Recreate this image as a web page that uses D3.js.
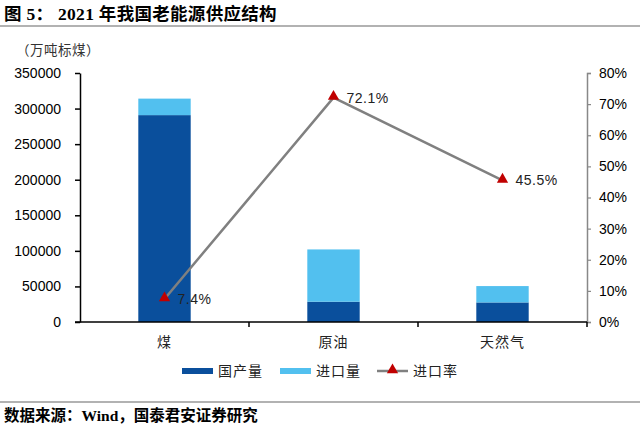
<!DOCTYPE html>
<html lang="zh">
<head>
<meta charset="utf-8">
<title>2021年我国老能源供应结构</title>
<script src="https://cdn.jsdelivr.net/npm/d3@7"></script>
<style>
body { margin: 0; background: #fff; }
svg { font-family: "Liberation Sans", Arial, sans-serif; }
.cjk { font-family: "Noto Sans CJK SC", sans-serif; }
.axis text { font-size: 14px; fill: #000; }
</style>
</head>
<body>
<div id="chart"></div>
<script>
// 数据
var categories = ["煤", "原油", "天然气"];
var domestic = [290800, 28500, 27500];   // 国产量（万吨标煤）
var imports = [23200, 73500, 23000];     // 进口量
var importRate = [0.074, 0.721, 0.455];  // 进口率
var rateLabels = ["7.4%", "72.1%", "45.5%"];
var leftTicks = [0, 50000, 100000, 150000, 200000, 250000, 300000, 350000];
var rightTicks = [0, 0.1, 0.2, 0.3, 0.4, 0.5, 0.6, 0.7, 0.8];

var W = 640, H = 431;
var mLeft = 80, mRight = 587, mTop = 73, mBottom = 322;

var svg = d3.select("#chart").append("svg")
    .attr("width", W)
    .attr("height", H);

// 标题
svg.append("text")
    .attr("x", 4).attr("y", 20)
    .style("font-family", "'Liberation Serif', 'Noto Sans CJK SC', serif")
    .style("font-weight", "bold")
    .style("font-size", "17.5px")
    .style("letter-spacing", "0.3px")
    .text("图 5：  2021 年我国老能源供应结构");
svg.append("line")
    .attr("x1", 0).attr("x2", W)
    .attr("y1", 26).attr("y2", 26)
    .attr("stroke", "#999").attr("stroke-width", 1.5);

svg.append("text")
    .attr("class", "cjk")
    .attr("x", 16).attr("y", 55)
    .style("font-size", "13.5px")
    .style("letter-spacing", "0.5px")
    .attr("fill", "#333")
    .text("（万吨标煤）");

var x = d3.scaleBand()
    .domain(categories)
    .range([mLeft, mRight])
    .paddingInner(0.69)
    .paddingOuter(0.345);

var y = d3.scaleLinear().domain([0, 350000]).range([mBottom, mTop]);
var y2 = d3.scaleLinear().domain([0, 0.8]).range([mBottom, mTop]);

var rows = categories.map(function(c, i) {
  return { cat: c, dom: domestic[i], imp: imports[i], rate: importRate[i], label: rateLabels[i] };
});

// 柱子
var g = svg.append("g");
g.selectAll("rect.dom").data(rows).enter().append("rect")
    .attr("class", "dom")
    .attr("x", function(d) { return x(d.cat); })
    .attr("width", x.bandwidth())
    .attr("y", function(d) { return y(d.dom); })
    .attr("height", function(d) { return y(0) - y(d.dom); })
    .attr("fill", "#0a4f9c");
g.selectAll("rect.imp").data(rows).enter().append("rect")
    .attr("class", "imp")
    .attr("x", function(d) { return x(d.cat); })
    .attr("width", x.bandwidth())
    .attr("y", function(d) { return y(d.dom + d.imp); })
    .attr("height", function(d) { return y(d.dom) - y(d.dom + d.imp); })
    .attr("fill", "#52c0ef");

// 左轴
var yAxis = svg.append("g")
    .attr("class", "axis")
    .attr("transform", "translate(" + mLeft + ",0)")
    .call(d3.axisLeft(y).tickValues(leftTicks).tickSize(5).tickSizeOuter(0).tickPadding(14).tickFormat(d3.format("d")));
yAxis.select(".domain").attr("stroke", "#000").attr("stroke-width", 1.5);
yAxis.selectAll(".tick line").attr("stroke", "#000").attr("stroke-width", 1.5);
yAxis.selectAll("text").attr("fill", "#222");

// 右轴
var y2Axis = svg.append("g")
    .attr("class", "axis")
    .attr("transform", "translate(" + mRight + ",0)")
    .call(d3.axisRight(y2).tickValues(rightTicks).tickSize(4).tickSizeOuter(4).tickPadding(8).tickFormat(d3.format(".0%")));
y2Axis.select(".domain").attr("stroke", "#888").attr("stroke-width", 1.5);
y2Axis.selectAll(".tick line").attr("stroke", "#888").attr("stroke-width", 1.2);
y2Axis.selectAll("text").attr("fill", "#222");

// X 轴
var xAxis = svg.append("g")
    .attr("transform", "translate(0," + mBottom + ")");
xAxis.append("line")
    .attr("x1", mLeft - 5).attr("x2", mRight)
    .attr("stroke", "#000").attr("stroke-width", 1.5);
var bounds = [mLeft + x.step(), mLeft + 2 * x.step(), mRight];
xAxis.selectAll("line.tk").data(bounds).enter().append("line")
    .attr("class", "tk")
    .attr("x1", function(d) { return d; }).attr("x2", function(d) { return d; })
    .attr("y1", 0).attr("y2", 5)
    .attr("stroke", "#000").attr("stroke-width", 1.5);
xAxis.selectAll("text").data(categories).enter().append("text")
    .attr("class", "cjk")
    .attr("x", function(d) { return x(d) + x.bandwidth() / 2; })
    .attr("y", 25)
    .attr("text-anchor", "middle")
    .style("font-size", "14px")
    .style("letter-spacing", "1px")
    .attr("fill", "#222")
    .text(function(d) { return d; });

// 进口率折线
var cx = function(d) { return x(d.cat) + x.bandwidth() / 2; };
var line = d3.line().x(cx).y(function(d) { return y2(d.rate); });
svg.append("path")
    .datum(rows)
    .attr("d", line)
    .attr("fill", "none")
    .attr("stroke", "#808080")
    .attr("stroke-width", 2.5);

var tri = d3.symbol().type(d3.symbolTriangle).size(55);
svg.selectAll("path.mk").data(rows).enter().append("path")
    .attr("class", "mk")
    .attr("d", tri)
    .attr("transform", function(d) { return "translate(" + cx(d) + "," + (y2(d.rate) - 1) + ")"; })
    .attr("fill", "#c00000");

svg.selectAll("text.lbl").data(rows).enter().append("text")
    .attr("class", "lbl")
    .attr("x", function(d) { return cx(d) + 13; })
    .attr("y", function(d) { return y2(d.rate) + 5; })
    .style("font-size", "14px")
    .style("letter-spacing", "0.5px")
    .attr("fill", "#222")
    .text(function(d) { return d.label; });

// 图例
var legend = svg.append("g").attr("transform", "translate(0,371)");
var items = [
  { name: "国产量", type: "rect", color: "#0a4f9c", x: 182 },
  { name: "进口量", type: "rect", color: "#52c0ef", x: 280 },
  { name: "进口率", type: "line", color: "#808080", x: 377 }
];
items.forEach(function(it) {
  if (it.type === "rect") {
    legend.append("rect").attr("x", it.x).attr("y", -3).attr("width", 31).attr("height", 6).attr("fill", it.color);
  } else {
    legend.append("line").attr("x1", it.x).attr("x2", it.x + 31).attr("y1", 0).attr("y2", 0)
        .attr("stroke", it.color).attr("stroke-width", 2.5);
    legend.append("path").attr("d", tri).attr("transform", "translate(" + (it.x + 15.5) + ",-1)").attr("fill", "#c00000");
  }
  legend.append("text")
      .attr("class", "cjk")
      .attr("x", it.x + 36).attr("y", 5)
      .style("font-size", "14px")
      .style("letter-spacing", "1px")
      .attr("fill", "#222")
      .text(it.name);
});

// 来源
svg.append("line")
    .attr("x1", 0).attr("x2", W)
    .attr("y1", 402).attr("y2", 402)
    .attr("stroke", "#999").attr("stroke-width", 1.5);
svg.append("text")
    .attr("x", 4).attr("y", 421)
    .style("font-family", "'Liberation Serif', 'Noto Sans CJK SC', serif")
    .style("font-weight", "bold")
    .style("font-size", "15.5px")
    .text("数据来源：Wind，国泰君安证券研究");
</script>
</body>
</html>
